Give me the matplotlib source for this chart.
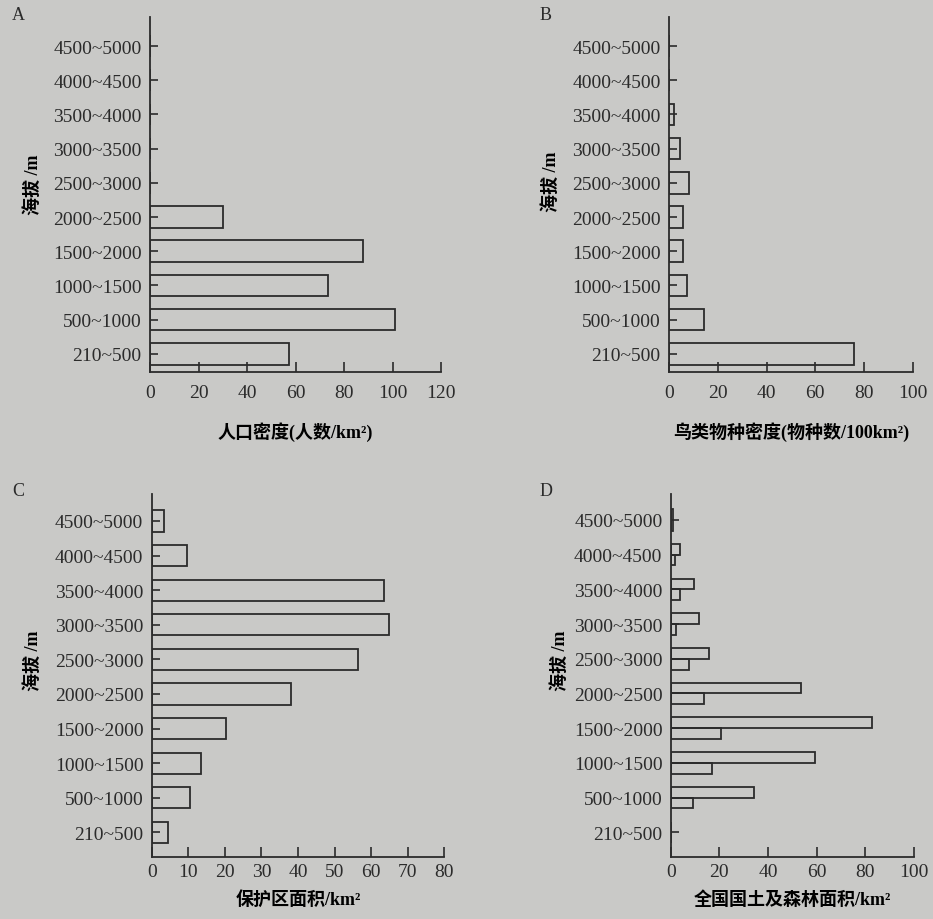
"""Four-panel altitude profile chart (population, birds, reserves, land/forest)."""

import matplotlib

matplotlib.use("Agg")
import matplotlib.pyplot as plt
import numpy as np

# altitude bands (bottom to top)
bands = ["210~500", "500~1000", "1000~1500", "1500~2000", "2000~2500",
         "2500~3000", "3000~3500", "3500~4000", "4000~4500", "4500~5000"]

# A: population density (people / km2)
pop_density = [57.5, 101, 73.5, 88, 30, 0, 0, 0, 0, 0]
# B: bird species density (species / 100 km2)
bird_density = [76, 14.5, 7.4, 5.9, 5.7, 8.2, 4.6, 2.0, 0, 0]
# C: protected area (km2)
reserve_area = [4.4, 10.5, 13.5, 20.4, 38, 56.4, 64.9, 63.6, 9.6, 3.4]
# D: national land area and forest area (km2)
land_area = [0, 34.3, 59.4, 82.7, 53.5, 15.9, 11.6, 9.7, 3.8, 1.0]
forest_area = [0, 9, 16.9, 20.7, 13.8, 7.7, 2.0, 3.8, 1.9, 0.8]

BG = "#c9c9c7"
INK = "#2b2b2b"
SERIF = "Liberation Serif"
CJK = [SERIF, "Noto Sans CJK SC"]

plt.rcParams["font.family"] = SERIF
plt.rcParams["text.color"] = INK
plt.rcParams["axes.edgecolor"] = INK
plt.rcParams["xtick.color"] = INK
plt.rcParams["ytick.color"] = INK

fig = plt.figure(figsize=(9.33, 9.2), dpi=100, facecolor=BG)

y = np.arange(len(bands))


def style_axis(ax, xmax, xstep, ylim, xpad, xlabel, xlabel_y, ylabel_xy):
    ax.set_facecolor("none")
    for side in ("top", "right"):
        ax.spines[side].set_visible(False)
    for side in ("left", "bottom"):
        ax.spines[side].set_linewidth(1.3)
    ax.set_xlim(0, xmax)
    ax.set_ylim(*ylim)
    ax.set_xticks(np.arange(0, xmax + 1, xstep))
    ax.set_yticks(y, bands)
    ax.tick_params(axis="x", direction="in", length=7, width=1.2,
                   labelsize=14, pad=xpad)
    ax.tick_params(axis="y", direction="in", length=6, width=1.2,
                   labelsize=14, pad=6)
    ax.set_xlabel(xlabel, family=CJK, fontsize=13, fontweight="bold")
    ax.xaxis.set_label_coords(0.5, xlabel_y)
    ax.set_ylabel("海拔 /m", family=CJK, fontsize=13, fontweight="bold")
    ax.yaxis.set_label_coords(*ylabel_xy)


bar_kw = dict(facecolor="none", edgecolor=INK, linewidth=1.3)

# A
axA = fig.add_axes([0.1608, 0.5946, 0.3119, 0.3859])
axA.barh(y, pop_density, height=0.63, **bar_kw)
style_axis(axA, 120, 20, (-0.53, 9.85), 9, "人口密度(人数/km²)", -0.14, (-0.371, 0.53))

# B
axB = fig.add_axes([0.7170, 0.5946, 0.2615, 0.3859])
axB.barh(y, bird_density, height=0.63, **bar_kw)
style_axis(axB, 100, 20, (-0.53, 9.85), 9, "鸟类物种密度(物种数/100km²)", -0.14, (-0.447, 0.54))

# C
axC = fig.add_axes([0.1626, 0.0674, 0.3138, 0.3946])
axC.barh(y, reserve_area, height=0.61, **bar_kw)
style_axis(axC, 80, 10, (-0.71, 9.78), 4, "保护区面积/km²", -0.09, (-0.375, 0.543))

# D
axD = fig.add_axes([0.7189, 0.0671, 0.2608, 0.3946])
axD.barh(y + 0.155, land_area, height=0.31, **bar_kw)
axD.barh(y - 0.155, forest_area, height=0.31, **bar_kw)
style_axis(axD, 100, 20, (-0.72, 9.74), 4, "全国国土及森林面积/km²", -0.09, (-0.418, 0.543))

for letter, fx, fy in [("A", 12, 15), ("B", 540, 15), ("C", 12, 492), ("D", 540, 492)]:
    fig.text(fx / 933, 1 - fy / 920, letter, fontsize=13, ha="left", va="center")

fig.savefig("out.png", dpi=100, facecolor=BG)
